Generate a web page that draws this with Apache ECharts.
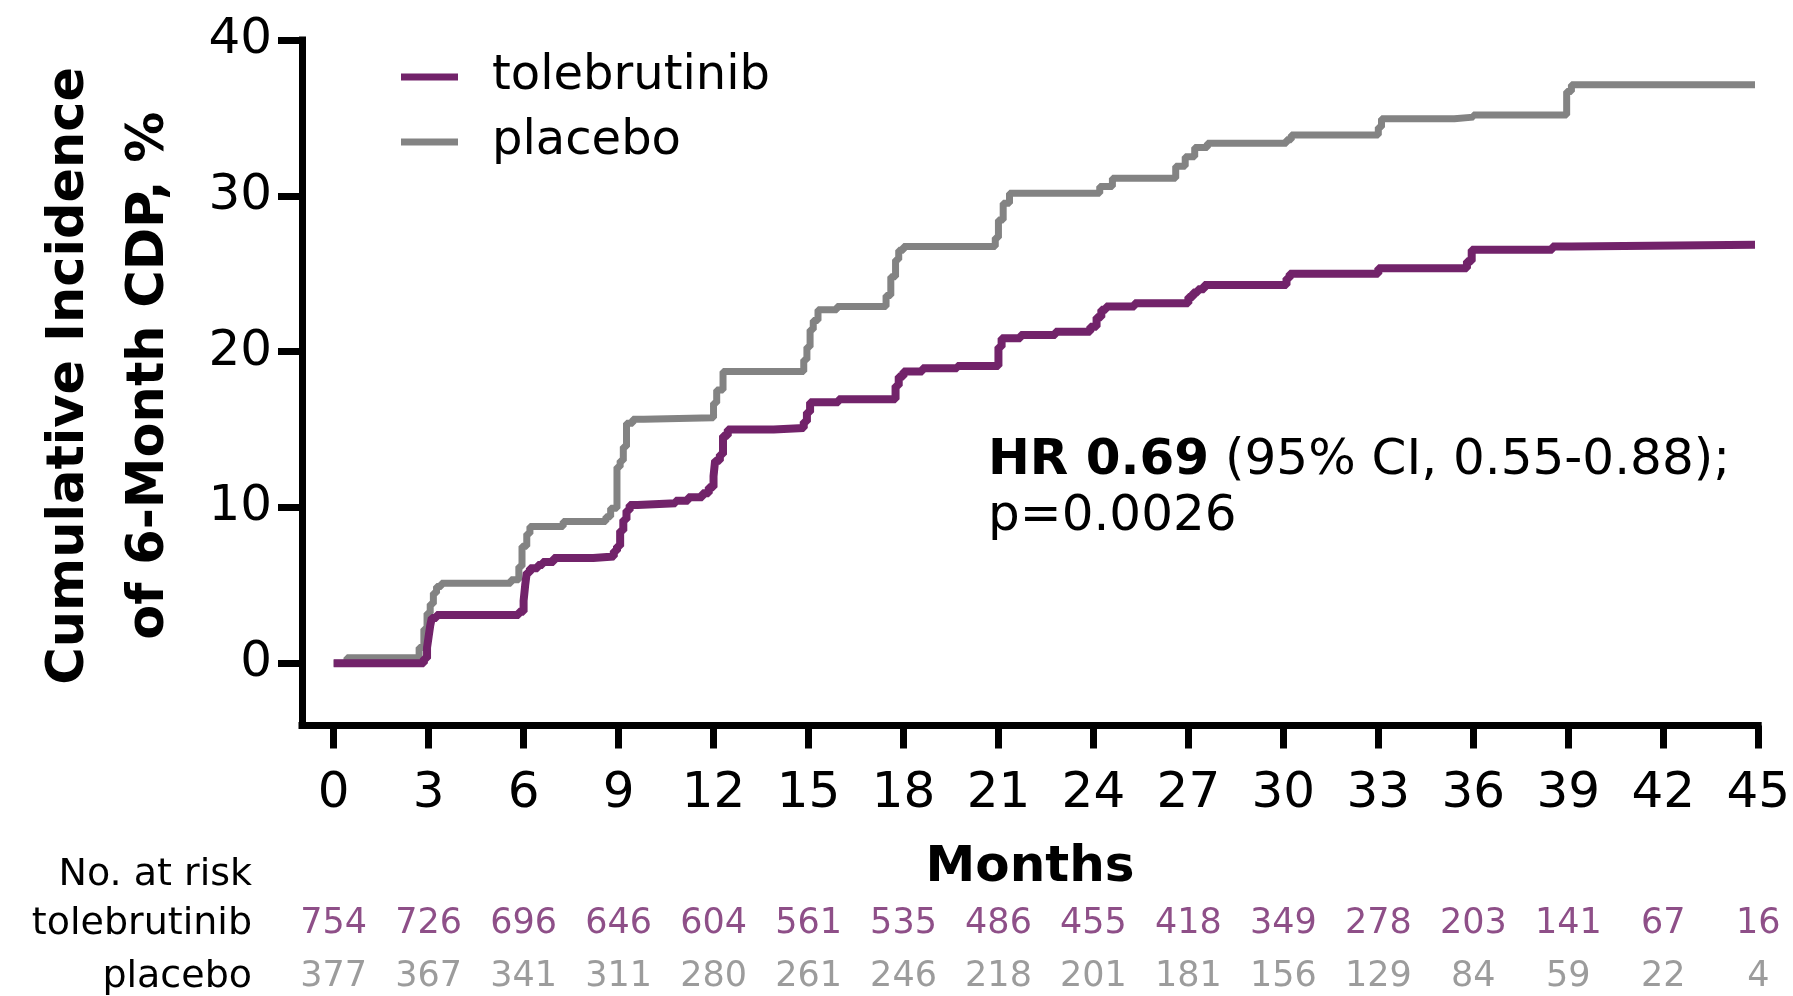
<!DOCTYPE html>
<html>
<head>
<meta charset="utf-8">
<script src="https://cdn.jsdelivr.net/npm/echarts@6/dist/echarts.min.js"></script>
<style>
html,body{margin:0;padding:0;background:#fff;}
#chart{width:1793px;height:996px;}
</style>
</head>
<body>
<div id="chart"></div>
<script>
// ---- data ----
const months = [0, 3, 6, 9, 12, 15, 18, 21, 24, 27, 30, 33, 36, 39, 42, 45];
const yTicks = [0, 10, 20, 30, 40];
const riskTolebrutinib = [754, 726, 696, 646, 604, 561, 535, 486, 455, 418, 349, 278, 203, 141, 67, 16];
const riskPlacebo = [377, 367, 341, 311, 280, 261, 246, 218, 201, 181, 156, 129, 84, 59, 22, 4];
const rowNames = ['tolebrutinib', 'placebo'];

// cumulative incidence (%) step curves: [month, value]
const tolebrutinibCurve = [
  [0, 0], [2.85, 0.3], [2.95, 1.0], [3.0, 1.7], [3.05, 2.4], [3.1, 2.9], [3.25, 3.1],
  [5.85, 3.3], [6.0, 4.0], [6.05, 5.0], [6.1, 5.8], [6.2, 6.1], [6.45, 6.3], [6.6, 6.5],
  [6.95, 6.75], [8.2, 6.85], [8.85, 7.2], [8.95, 7.5], [9.05, 8.5], [9.15, 9.2], [9.25, 9.8],
  [9.35, 10.15], [9.6, 10.27], [10.8, 10.43], [11.2, 10.65], [11.65, 10.9], [11.85, 11.3],
  [12.0, 12.0], [12.05, 13.0], [12.2, 13.4], [12.3, 14.6], [12.45, 15.0], [13.9, 15.1],
  [14.85, 15.5], [14.95, 16.1], [15.05, 16.75], [15.95, 16.94], [17.75, 17.8], [17.85, 18.4],
  [18.0, 18.72], [18.6, 18.93], [19.7, 19.08], [21.0, 20.3], [21.1, 20.86], [21.7, 21.07],
  [22.8, 21.28], [23.9, 21.6], [24.1, 22.2], [24.25, 22.68], [24.4, 22.89], [25.3, 23.1],
  [27.0, 23.5], [27.15, 23.8], [27.3, 24.0], [27.5, 24.28], [30.1, 24.7], [30.2, 24.99],
  [33.0, 25.35], [35.8, 25.8], [35.95, 26.53], [38.5, 26.74], [39.1, 26.85], [44.9, 26.85]
];
const placeboCurve = [
  [0, 0], [0.42, 0.35], [2.7, 1.0], [2.85, 2.2], [2.95, 3.2], [3.05, 3.8], [3.15, 4.5],
  [3.25, 4.92], [3.4, 5.13], [5.6, 5.35], [5.85, 6.2], [5.95, 7.5], [6.1, 8.3], [6.2, 8.77],
  [7.25, 9.09], [8.6, 9.4], [8.75, 9.95], [8.95, 12.6], [9.05, 13.0], [9.15, 13.9],
  [9.25, 15.4], [9.45, 15.66], [9.8, 15.76], [12.0, 16.7], [12.1, 17.54], [12.3, 18.72],
  [14.85, 19.47], [14.95, 20.3], [15.05, 21.4], [15.15, 22.0], [15.3, 22.68], [15.9, 22.89],
  [17.45, 23.6], [17.6, 24.8], [17.75, 25.9], [17.85, 26.5], [18.0, 26.74], [20.9, 27.3],
  [21.0, 28.45], [21.15, 29.52], [21.35, 30.17], [24.2, 30.6], [24.6, 31.13], [26.6, 31.9],
  [26.9, 32.5], [27.2, 33.1], [27.6, 33.37], [30.1, 33.6], [30.25, 33.9], [33.0, 34.4],
  [33.1, 34.94], [35.4, 35.05], [36.0, 35.19], [38.95, 36.7], [39.1, 37.12], [44.9, 37.12]
];

// ---- style ----
const PURPLE = '#72236a';
const GRAY = '#838383';
const FONT = 'DejaVu Sans';

const chart = echarts.init(document.getElementById('chart'), null, {renderer: 'canvas'});

const option = {
  animation: false,
  backgroundColor: '#fff',
  textStyle: {fontFamily: FONT},
  grid: [
    {left: 302, top: 40, width: 1456.3, height: 685.5},
    {left: 302, top: 924, width: 1456.3, height: 60}
  ],
  legend: {
    data: ['tolebrutinib', 'placebo'],
    orient: 'vertical',
    left: 396, top: 46,
    icon: 'rect', itemWidth: 57, itemHeight: 7, itemGap: 13,
    textStyle: {fontFamily: FONT, fontSize: 48, color: '#000', lineHeight: 52, padding: [0, 0, 0, 29]}
  },
  xAxis: [
    {
      type: 'value', gridIndex: 0, min: -1, max: 45,
      name: 'Months', nameLocation: 'middle', nameGap: 118,
      nameTextStyle: {fontFamily: FONT, fontSize: 50, fontWeight: 'bold', color: '#000'},
      axisLine: {show: true, onZero: false, lineStyle: {color: '#000', width: 7, cap: 'square'}},
      axisTick: {show: true, length: 23, lineStyle: {color: '#000', width: 7}, customValues: months},
      axisLabel: {fontFamily: FONT, fontSize: 50, color: '#000', margin: 44, customValues: months},
      splitLine: {show: false}
    },
    {type: 'value', gridIndex: 1, min: -1, max: 45, show: false}
  ],
  yAxis: [
    {
      type: 'value', gridIndex: 0, min: -4, max: 40,
      name: 'Cumulative Incidence\nof 6-Month CDP, %', nameLocation: 'middle', nameGap: 112, nameRotate: 90,
      nameTextStyle: {fontFamily: FONT, fontSize: 51, fontWeight: 'bold', color: '#000', lineHeight: 80, padding: [0, 0, 0, 14]},
      axisLine: {show: true, onZero: false, lineStyle: {color: '#000', width: 7, cap: 'square'}},
      axisTick: {show: true, length: 24, lineStyle: {color: '#000', width: 7}, customValues: yTicks},
      axisLabel: {fontFamily: FONT, fontSize: 50, color: '#000', margin: 30, customValues: yTicks},
      splitLine: {show: false}
    },
    {
      type: 'category', gridIndex: 1, data: rowNames, inverse: true, boundaryGap: false,
      axisLine: {show: false}, axisTick: {show: false}, splitLine: {show: false},
      axisLabel: {fontFamily: FONT, fontSize: 38, color: '#000', margin: 50}
    }
  ],
  series: [
    {
      name: 'placebo', type: 'line', step: 'end', xAxisIndex: 0, yAxisIndex: 0,
      data: placeboCurve, showSymbol: false, symbol: 'none',
      lineStyle: {color: GRAY, width: 7}, itemStyle: {color: GRAY}, z: 2
    },
    {
      name: 'tolebrutinib', type: 'line', step: 'end', xAxisIndex: 0, yAxisIndex: 0,
      data: tolebrutinibCurve, showSymbol: false, symbol: 'none',
      lineStyle: {color: PURPLE, width: 8}, itemStyle: {color: PURPLE}, z: 3
    },
    {
      name: 'risk-tolebrutinib', type: 'scatter', xAxisIndex: 1, yAxisIndex: 1,
      symbolSize: 1, itemStyle: {color: 'rgba(0,0,0,0)'},
      data: riskTolebrutinib.map((n, i) => [months[i], rowNames[0], n]),
      label: {show: true, position: 'inside', formatter: p => String(p.value[2]),
        fontFamily: FONT, fontSize: 35, color: PURPLE}
    },
    {
      name: 'risk-placebo', type: 'scatter', xAxisIndex: 1, yAxisIndex: 1,
      symbolSize: 1, itemStyle: {color: 'rgba(0,0,0,0)'},
      data: riskPlacebo.map((n, i) => [months[i], rowNames[1], n]),
      label: {show: true, position: 'inside', formatter: p => String(p.value[2]),
        fontFamily: FONT, fontSize: 35, color: GRAY}
    }
  ],
  graphic: [
    {
      type: 'text', x: 988, y: 433,
      style: {
        text: '{b|HR 0.69} (95% CI, 0.55-0.88);\np=0.0026',
        fontFamily: FONT, fontSize: 50, lineHeight: 56, fill: '#000',
        verticalAlign: 'top', align: 'left',
        rich: {b: {fontFamily: FONT, fontSize: 50, fontWeight: 'bold', lineHeight: 56, fill: '#000'}}
      }
    },
    {
      type: 'text', x: 252, y: 875,
      style: {text: 'No. at risk', fontFamily: FONT, fontSize: 38, fill: '#000', align: 'right', verticalAlign: 'middle'}
    }
  ]
};
chart.setOption(option);
</script>
</body>
</html>
